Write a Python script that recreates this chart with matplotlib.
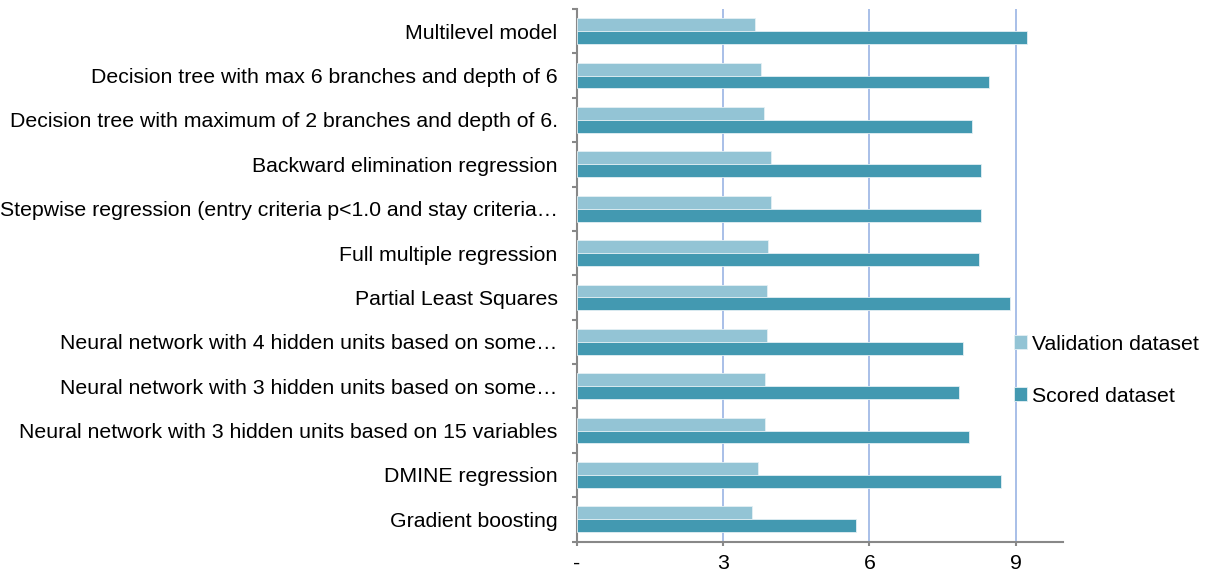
import numpy as np
import matplotlib.pyplot as plt

plt.rcParams['font.family'] = ['Liberation Sans', 'DejaVu Sans']

# top to bottom
models = [
    "Multilevel model",
    "Decision tree with max 6 branches and depth of 6",
    "Decision tree with maximum of 2 branches and depth of 6.",
    "Backward elimination regression",
    "Stepwise regression (entry criteria p<1.0 and stay criteria\u2026",
    "Full multiple regression",
    "Partial Least Squares",
    "Neural network with 4 hidden units based on some\u2026",
    "Neural network with 3 hidden units based on some\u2026",
    "Neural network with 3 hidden units based on 15 variables",
    "DMINE regression",
    "Gradient boosting",
]
validation = [3.65, 3.78, 3.83, 3.98, 3.98, 3.91, 3.89, 3.89, 3.85, 3.85, 3.71, 3.59]
scored = [9.23, 8.46, 8.11, 8.28, 8.28, 8.24, 8.89, 7.91, 7.83, 8.05, 8.69, 5.72]
xticks = [0, 3, 6, 9]
xticklabels = ["-", "3", "6", "9"]

c_val = "#93c4d5"
c_sc = "#4399b1"

fig = plt.figure(figsize=(12.16, 5.78), dpi=100)
ax = fig.add_axes([577 / 1216, 1 - 541.5 / 578, (1063 - 577) / 1216, (541.5 - 9) / 578])

y = np.arange(len(models))
h = 0.29
ax.barh(y - h / 2, validation, height=h, color=c_val, edgecolor="#e4f0f4", linewidth=0.6,
        label="Validation dataset", zorder=3)
ax.barh(y + h / 2, scored, height=h, color=c_sc, edgecolor="#e4f0f4", linewidth=0.6,
        label="Scored dataset", zorder=3)

ax.set_ylim(len(models) - 0.5, -0.5)
ax.set_xlim(0, 9.97)

# category ticks sit on the boundaries, labels in the middle
ax.set_yticks(np.arange(len(models) + 1) - 0.5)
ax.set_yticklabels([])
ax.set_yticks(y, minor=True)
ax.set_yticklabels(models, minor=True, fontsize=15.3)
ax.tick_params(axis="y", which="minor", length=0, pad=14)
ax.tick_params(axis="y", which="major", length=3.5, width=1.5, color="#888888")

ax.set_xticks(xticks)
ax.set_xticklabels(xticklabels, fontsize=15.3)
ax.tick_params(axis="x", length=3, width=1.5, color="#888888", pad=6)

for v in xticks[1:]:
    ax.axvline(v, color="#a8bfe8", lw=1.4, zorder=1)

for s in ["top", "right"]:
    ax.spines[s].set_visible(False)
for s in ["left", "bottom"]:
    ax.spines[s].set_color("#888888")
    ax.spines[s].set_linewidth(1.5)

ax.legend(loc="center left", bbox_to_anchor=(0.882, 0.322), frameon=False, fontsize=15.3,
          handlelength=0.6, handleheight=0.6, handletextpad=0.25, labelspacing=1.55,
          borderaxespad=0)

fig.savefig("out.png", dpi=100)
